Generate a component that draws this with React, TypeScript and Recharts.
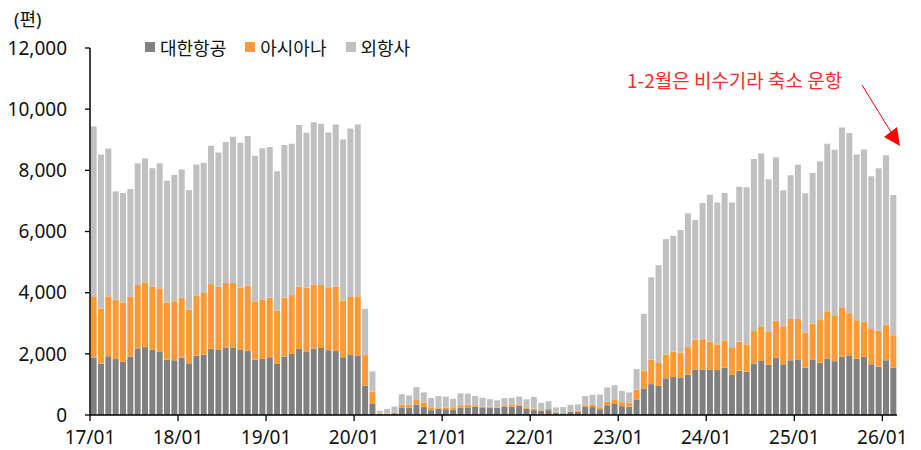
import { BarChart, Bar, XAxis, YAxis } from "recharts";

// monthly flight counts, 2017/01 ~ 2026/02
const koreanAir = [
  1880, 1680, 1920, 1830, 1740, 1910, 2180, 2220, 2130, 2080, 1810, 1790,
  1880, 1690, 1940, 1970, 2170, 2130, 2210, 2210, 2130, 2090, 1810, 1830,
  1890, 1670, 1910, 2000, 2160, 2080, 2170, 2190, 2120, 2090, 1890, 1960,
  1950, 960, 360, 30, 30, 60, 250, 240, 340, 260, 160, 210,
  190, 170, 240, 250, 270, 250, 240, 230, 280, 270, 300, 200,
  160, 140, 160, 70, 30, 100, 110, 260, 260, 190, 320, 360,
  290, 270, 510, 870, 1010, 950, 1200, 1240, 1230, 1320, 1490, 1490,
  1480, 1470, 1550, 1310, 1450, 1420, 1680, 1770, 1640, 1880, 1660, 1790,
  1820, 1550, 1800, 1710, 1850, 1760, 1910, 1930, 1840, 1900, 1660, 1580,
  1790, 1550,
];

const asiana = [
  1980, 1800, 1960, 1940, 1940, 1950, 2070, 2120, 2060, 2060, 1860, 1930,
  1960, 1760, 1960, 2020, 2110, 2060, 2110, 2110, 2030, 2140, 1910, 1940,
  1950, 1740, 1920, 1920, 2040, 2080, 2090, 2060, 2030, 2110, 1850, 1900,
  1930, 1000, 400, 20, 20, 20, 90, 100, 150, 150, 70, 40,
  50, 60, 80, 90, 50, 30, 30, 20, 40, 60, 50, 50,
  50, 20, 40, 20, 40, 20, 40, 60, 70, 40, 120, 130,
  130, 140, 320, 580, 800, 750, 780, 830, 810, 900, 970, 990,
  920, 840, 890, 880, 950, 890, 1070, 1110, 1090, 1200, 1220, 1350,
  1320, 1140, 1190, 1420, 1540, 1480, 1590, 1400, 1260, 1150, 1150, 1180,
  1160, 1060,
];

const foreignAirlines = [
  5570, 5040, 4830, 3540, 3580, 3530, 3980, 4050, 3880, 4090, 3990, 4130,
  4190, 3900, 4290, 4260, 4520, 4390, 4610, 4780, 4740, 4890, 4760, 4950,
  4920, 4560, 5000, 4950, 5280, 5070, 5310, 5270, 5090, 5300, 5270, 5510,
  5620, 1510, 670, 90, 150, 200, 340, 300, 420, 330, 330, 370,
  360, 300, 390, 360, 300, 280, 250, 230, 230, 230, 250, 260,
  380, 240, 250, 160, 190, 210, 200, 300, 330, 440, 460, 480,
  370, 330, 670, 1860, 2690, 3200, 3770, 3790, 4010, 4380, 3920, 4450,
  4800, 4640, 4820, 4760, 5060, 5140, 5620, 5670, 4980, 5350, 4470, 4700,
  5040, 4560, 4920, 5170, 5480, 5430, 5900, 5890, 5420, 5630, 5000, 5310,
  5540, 4580,
];

const months: string[] = [];
for (let y = 17; y <= 26; y++) {
  for (let m = 1; m <= 12; m++) {
    if (months.length < koreanAir.length) months.push(`${y}/${String(m).padStart(2, "0")}`);
  }
}

const yTicks = [0, 2000, 4000, 6000, 8000, 10000, 12000];

const seriesNames = ["대한항공", "아시아나", "외항사"];
const seriesColors = ["#808080", "#ff9933", "#c0c0c0"];

const data = months.map((month, i) => ({
  month,
  korean: koreanAir[i],
  asiana: asiana[i],
  foreign: foreignAirlines[i],
}));

const FONT = "'Noto Sans', 'Noto Sans CJK KR', sans-serif";

// tick mark + label sit on the boundary between months, not the bar centre
function MonthTick(props: any) {
  const { x, y, payload } = props;
  const off = payload?.offset ?? 3.67;
  const bx = x - off;
  return (
    <g>
      <line x1={bx} x2={bx} y1={y} y2={y + 6} stroke="#000" strokeWidth={1.3} />
      <text x={bx} y={y + 29} textAnchor="middle" fontSize={19} fill="#111" fontFamily={FONT}>
        {payload.value}
      </text>
    </g>
  );
}

export default function App() {
  return (
    <div
      style={{
        position: "absolute",
        left: 0,
        top: 0,
        width: 921,
        height: 450,
        background: "#fff",
        fontFamily: FONT,
      }}
    >
      <div style={{ position: "absolute", left: 14, top: 5, fontSize: 18, color: "#111" }}>(편)</div>

      <div
        style={{
          position: "absolute",
          left: 145,
          top: 34,
          display: "flex",
          alignItems: "center",
          fontSize: 18,
          color: "#111",
        }}
      >
        {seriesNames.map((name, i) => (
          <div key={name} style={{ display: "flex", alignItems: "center", marginRight: 19 }}>
            <span
              style={{
                display: "inline-block",
                width: 10,
                height: 10,
                background: seriesColors[i],
                marginRight: 5,
              }}
            />
            <span style={{ fontFamily: "'Noto Sans CJK KR', sans-serif" }}>{name}</span>
          </div>
        ))}
      </div>

      <BarChart
        width={921}
        height={450}
        data={data}
        margin={{ top: 48, right: 24, bottom: 0, left: 0 }}
        barCategoryGap="9%"
      >
        <XAxis
          dataKey="month"
          height={35}
          interval={11}
          tickSize={0}
          tickMargin={0}
          tickLine={false}
          axisLine={{ stroke: "#000", strokeWidth: 1.5 }}
          tick={<MonthTick />}
        />
        <YAxis
          width={90}
          domain={[0, 12000]}
          ticks={yTicks}
          interval={0}
          tickSize={5}
          tickMargin={18}
          axisLine={{ stroke: "#000", strokeWidth: 1.5 }}
          tickLine={{ stroke: "#000", strokeWidth: 1.3 }}
          tick={{ fontSize: 19, fill: "#111", fontFamily: FONT }}
          tickFormatter={(v: number) => v.toLocaleString("en-US")}
        />
        <Bar dataKey="korean" name={seriesNames[0]} stackId="a" fill={seriesColors[0]} isAnimationActive={false} />
        <Bar dataKey="asiana" name={seriesNames[1]} stackId="a" fill={seriesColors[1]} isAnimationActive={false} />
        <Bar dataKey="foreign" name={seriesNames[2]} stackId="a" fill={seriesColors[2]} isAnimationActive={false} />
      </BarChart>

      <div
        style={{
          position: "absolute",
          left: 627,
          top: 66,
          fontSize: 19,
          color: "#ff2a2a",
          fontFamily: "'Noto Sans CJK KR', sans-serif",
          whiteSpace: "nowrap",
        }}
      >
        1-2월은 비수기라 축소 운항
      </div>
      <svg
        width={921}
        height={450}
        style={{ position: "absolute", left: 0, top: 0, pointerEvents: "none" }}
      >
        <line x1={862} y1={85} x2={891} y2={132} stroke="#ff0000" strokeWidth={1} />
        <polygon points="884,137 897,127 900,146" fill="#ff0000" />
      </svg>
    </div>
  );
}
